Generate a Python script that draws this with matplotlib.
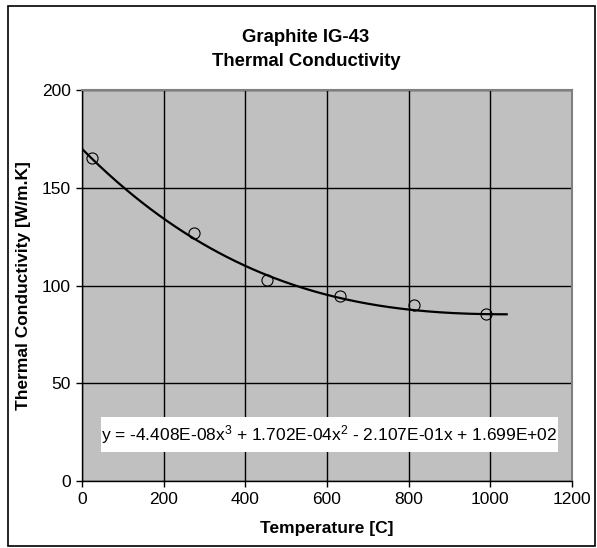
import numpy as np
import matplotlib
matplotlib.use("Agg")
import matplotlib.pyplot as plt
from matplotlib.patches import Rectangle

plt.rcParams['font.family'] = ['Liberation Sans', 'DejaVu Sans']
plt.rcParams['mathtext.fontset'] = 'custom'
plt.rcParams['mathtext.rm'] = 'Liberation Sans'
plt.rcParams['mathtext.it'] = 'Liberation Sans'

# measured points
temp = [24, 274, 454, 633, 812, 989]
cond = [165.2, 126.8, 102.6, 94.4, 90.1, 85.5]

# trendline coefficients (from the equation on the chart)
coef = [-4.408e-08, 1.702e-04, -2.107e-01, 1.699e+02]
trend_x = np.linspace(0, 1040, 200)

xticks = [0, 200, 400, 600, 800, 1000, 1200]
yticks = [0, 50, 100, 150, 200]

fig = plt.figure(figsize=(5.97, 5.48), dpi=100)
ax = fig.add_axes([82/597, 1-481/548, 490/597, 391/548])
ax.set_facecolor("#c0c0c0")

ax.plot(trend_x, np.polyval(coef, trend_x), color="k", lw=1.6, zorder=3)
ax.plot(temp, cond, "o", mfc="none", mec="k", ms=8, mew=0.8, zorder=4)

ax.set_xlim(0, 1200)
ax.set_ylim(0, 200)
ax.set_xticks(xticks)
ax.set_yticks(yticks)
ax.grid(True, color="k", lw=1.0)
ax.set_axisbelow(True)
ax.tick_params(direction="out", length=4, width=1, labelsize=12.5, pad=4)
for s in ["top", "right"]:
    ax.spines[s].set_color("#808080")
    ax.spines[s].set_linewidth(1.5)
for s in ["left", "bottom"]:
    ax.spines[s].set_color("k")
    ax.spines[s].set_linewidth(1)

ax.set_xlabel("Temperature [C]", fontsize=12.5, fontweight="bold", labelpad=10)
ax.set_ylabel("Thermal Conductivity [W/m.K]", fontsize=12.5, fontweight="bold", labelpad=8)

fig.text(306/597, 1-37/548, "Graphite IG-43", ha="center", va="center",
         fontsize=13.3, fontweight="bold")
fig.text(306/597, 1-62/548, "Thermal Conductivity", ha="center", va="center",
         fontsize=13.3, fontweight="bold")

# equation box
ax.add_patch(Rectangle((0.039, 0.074), 0.932, 0.09, transform=ax.transAxes,
                       facecolor="white", edgecolor="none", zorder=5))
eq = "y = -4.408E-08x$^{3}$ + 1.702E-04x$^{2}$ - 2.107E-01x + 1.699E+02"
ax.text(0.505, 0.119, eq, transform=ax.transAxes, ha="center", va="center",
        fontsize=12.5, zorder=6)

# outer chart border
fig.patches.append(Rectangle((8/597, 1-546/548), 587/597, 540/548,
                             transform=fig.transFigure, fill=False,
                             edgecolor="k", lw=1.2))

fig.savefig("out.png", dpi=100)
